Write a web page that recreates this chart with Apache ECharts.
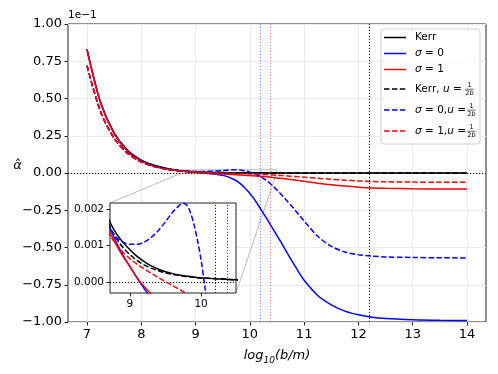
<!DOCTYPE html>
<html>
<head>
<meta charset="utf-8">
<script src="https://cdn.jsdelivr.net/npm/echarts@6/dist/echarts.min.js"></script>
<style>
html,body{margin:0;padding:0;background:#fff}
#main{width:498px;height:374px}
</style>
</head>
<body>
<div id="main"></div>
<script>
// log10(b/m) sample points
var logB = [7.0, 7.25, 7.5, 7.75, 8.0, 8.25, 8.5, 8.7, 8.8, 8.9, 9.0, 9.1, 9.2, 9.3, 9.4, 9.5, 9.6, 9.7, 9.75, 9.8,
            9.85, 9.9, 9.95, 10.0, 10.05, 10.1, 10.2, 10.3, 10.4, 10.5, 10.6, 10.7, 10.8, 10.9, 11.0, 11.25, 11.5, 11.75, 12.0, 12.25,
            12.5, 13.0, 13.5, 14.0];
// alpha hat, in units of 1e-1
var kerr = [0.83, 0.475, 0.27, 0.152, 0.087, 0.05, 0.029, 0.0172, 0.0135, 0.0109, 0.0088, 0.0070, 0.0056, 0.0044, 0.0035, 0.0028, 0.0023, 0.0019, 0.0017, 0.0016,
            0.0015, 0.0014, 0.0012, 0.0011, 0.0011, 0.0010, 0.0009, 0.0008, 0.0007, 0.0006, 0.0005, 0.0005, 0.0004, 0.0003, 0.0003, 0.0002, 0.0001, 0.0001, 0.0001, 0,
            0, 0, 0, 0];
var sigma0 = [0.83, 0.472, 0.266, 0.148, 0.083, 0.046, 0.026, 0.0158, 0.0112, 0.0074, 0.0042, 0.0011, -0.0018, -0.0048, -0.0095, -0.016, -0.026, -0.042, -0.052, -0.065,
              -0.08, -0.097, -0.116, -0.137, -0.16, -0.185, -0.242, -0.300, -0.36, -0.42, -0.48, -0.545, -0.605, -0.665, -0.72, -0.822, -0.885, -0.927, -0.952, -0.968,
              -0.977, -0.985, -0.989, -0.99];
var sigma1 = [0.83, 0.47, 0.263, 0.145, 0.08, 0.044, 0.024, 0.0145, 0.0104, 0.0071, 0.0043, 0.0012, -0.0012, -0.0033, -0.0052, -0.007, -0.0088, -0.0107, -0.0117, -0.0127,
              -0.0138, -0.0149, -0.016, -0.0172, -0.0184, -0.0197, -0.0225, -0.0257, -0.0293, -0.033, -0.037, -0.0415, -0.046, -0.051, -0.056, -0.068, -0.079, -0.088, -0.095, -0.1,
              -0.103, -0.106, -0.107, -0.107];
var kerrU = [0.72, 0.412, 0.235, 0.133, 0.076, 0.044, 0.0255, 0.0158, 0.0122, 0.0095, 0.0075, 0.0059, 0.0047, 0.0038, 0.0031, 0.0025, 0.0021, 0.0018, 0.0016, 0.0015,
             0.0014, 0.0013, 0.0012, 0.0011, 0.0011, 0.0010, 0.0009, 0.0008, 0.0007, 0.0006, 0.0005, 0.0005, 0.0004, 0.0003, 0.0003, 0.0002, 0.0001, 0.0001, 0.0001, 0,
             0, 0, 0, 0];
var sigma0U = [0.72, 0.41, 0.233, 0.132, 0.074, 0.042, 0.024, 0.0152, 0.0124, 0.0109, 0.0103, 0.0103, 0.0109, 0.0122, 0.0141, 0.0165, 0.0191, 0.021, 0.0215, 0.021,
               0.019, 0.0157, 0.0113, 0.006, -0.001, -0.008, -0.025, -0.049, -0.079, -0.114, -0.152, -0.193, -0.235, -0.279, -0.322, -0.425, -0.492, -0.53, -0.549, -0.558,
               -0.563, -0.567, -0.569, -0.57];
var sigma1U = [0.72, 0.41, 0.232, 0.13, 0.073, 0.041, 0.0225, 0.0134, 0.0105, 0.0082, 0.0064, 0.0049, 0.0036, 0.0024, 0.0012, 0.0001, -0.001, -0.0021, -0.0027, -0.0033,
               -0.0039, -0.0045, -0.0052, -0.0059, -0.0066, -0.0074, -0.009, -0.0108, -0.0128, -0.015, -0.0173, -0.0198, -0.0225, -0.0252, -0.028, -0.035, -0.042, -0.048, -0.053, -0.057,
               -0.059, -0.061, -0.062, -0.062];

var xTicks = [7, 8, 9, 10, 11, 12, 13, 14];
var insetXTicks = [9, 10];
var insetYTicks = [0, 0.01, 0.02];      // 1e-1 units, shown as 0.000 .. 0.002
var insetXRange = [8.72, 10.49];
var insetYRange = [-0.003, 0.0216];
var horizonS0 = 10.2, horizonS1 = 10.37, kerrMark = 12.2;

var FONT = 'DejaVu Sans';
var dash = [5.5, 2.4];
var dot = [1.2, 1.8];

function pairs(ys) {
    return logB.map(function (x, i) { return [x, ys[i]]; });
}

var curves = [
    {name: 'Kerr', data: kerr, color: '#000000', dashed: false},
    {name: 'σ=0', data: sigma0, color: '#0000ff', dashed: false},
    {name: 'σ=1', data: sigma1, color: '#ff0000', dashed: false},
    {name: 'Kerr, u=1/2b', data: kerrU, color: '#000000', dashed: true},
    {name: 'σ=0,u=1/2b', data: sigma0U, color: '#0000ff', dashed: true},
    {name: 'σ=1,u=1/2b', data: sigma1U, color: '#ff0000', dashed: true}
];

var myChart = echarts.init(document.getElementById('main'));

var series = [];
// reference lines on the main axes
series.push({
    type: 'line', xAxisIndex: 0, yAxisIndex: 0, data: [], silent: true,
    markLine: {
        silent: true, symbol: 'none', label: {show: false}, animation: false,
        data: [
            {yAxis: 0, lineStyle: {color: '#000', type: dot, width: 1}},
            {xAxis: horizonS0, lineStyle: {color: 'rgba(0,0,255,0.45)', type: dot, width: 1}},
            {xAxis: horizonS1, lineStyle: {color: 'rgba(255,0,0,0.45)', type: dot, width: 1}},
            {xAxis: kerrMark, lineStyle: {color: '#000', type: dot, width: 1}}
        ]
    },
    markArea: {
        silent: true,
        itemStyle: {color: 'rgba(0,0,0,0)', borderColor: '#bbbbbb', borderWidth: 1},
        data: [[{xAxis: insetXRange[0], yAxis: insetYRange[0]}, {xAxis: insetXRange[1], yAxis: insetYRange[1]}]]
    }
});
// reference lines in the inset, on the inset layer
series.push({
    type: 'line', xAxisIndex: 1, yAxisIndex: 1, zlevel: 1, data: [], silent: true,
    markLine: {
        silent: true, symbol: 'none', label: {show: false}, animation: false, zlevel: 1, z: 3,
        data: [
            {yAxis: 0, lineStyle: {color: '#000000', type: dot, width: 1}},
            {xAxis: horizonS0, lineStyle: {color: '#0000ff', type: dot, width: 1}},
            {xAxis: horizonS1, lineStyle: {color: '#ff0000', type: dot, width: 1}}
        ]
    }
});

curves.forEach(function (c) {
    [0, 1].forEach(function (k) {
        series.push({
            name: c.name, type: 'line', xAxisIndex: k, yAxisIndex: k,
            zlevel: k, data: pairs(c.data), showSymbol: false, smooth: 0.3,
            clip: true, animation: false, itemStyle: {color: c.color},
            lineStyle: {color: c.color, width: 1.5, type: c.dashed ? dash : 'solid'}
        });
    });
});

var option = {
    backgroundColor: '#fff',
    animation: false,
    grid: [
        {left: 68, right: 12, top: 24, bottom: 52, show: true, borderColor: '#222', borderWidth: 1, backgroundColor: '#fff'},
        {left: 110, top: 203, width: 126, height: 90, show: true, borderColor: '#222', borderWidth: 1,
         backgroundColor: '#fff', zlevel: 1}
    ],
    xAxis: [
        {
            type: 'value', gridIndex: 0, min: 6.65, max: 14.35,
            name: '{i|log}{s|10}{i|(b/m)}', nameLocation: 'middle', nameGap: 25,
            nameTextStyle: {
                rich: {
                    i: {fontFamily: FONT, fontSize: 13, fontStyle: 'italic', color: '#000', lineHeight: 18},
                    s: {fontFamily: FONT, fontSize: 9, fontStyle: 'italic', color: '#000', lineHeight: 8, verticalAlign: 'bottom'}
                }
            },
            axisLine: {show: false, onZero: false},
            axisTick: {show: true, inside: false, length: 3.5, customValues: xTicks, lineStyle: {color: '#222'}},
            axisLabel: {customValues: xTicks, margin: 6, fontFamily: FONT, fontSize: 13, color: '#000'},
            splitLine: {show: true, lineStyle: {color: '#ebebeb', width: 1}}
        },
        {
            type: 'value', gridIndex: 1, min: insetXRange[0], max: insetXRange[1], zlevel: 1,
            axisLine: {show: false, onZero: false},
            axisTick: {show: true, inside: false, length: 3.5, customValues: insetXTicks, lineStyle: {color: '#222'}},
            axisLabel: {customValues: insetXTicks, margin: 6, fontFamily: FONT, fontSize: 10.5, color: '#000'},
            splitLine: {show: false}
        }
    ],
    yAxis: [
        {
            type: 'value', gridIndex: 0, min: -1, max: 1, interval: 0.25,
            axisLine: {show: false, onZero: false},
            axisTick: {show: true, inside: false, length: 3.5, lineStyle: {color: '#222'}},
            axisLabel: {
                margin: 6, fontFamily: FONT, fontSize: 13, color: '#000',
                formatter: function (v) { return v.toFixed(2).replace('-', '\u2212'); }
            },
            splitLine: {show: true, lineStyle: {color: '#ebebeb', width: 1}}
        },
        {
            type: 'value', gridIndex: 1, min: insetYRange[0], max: insetYRange[1], zlevel: 1,
            axisLine: {show: false, onZero: false},
            axisTick: {show: true, inside: false, length: 3.5, customValues: insetYTicks, lineStyle: {color: '#222'}},
            axisLabel: {
                customValues: insetYTicks, margin: 6, fontFamily: FONT, fontSize: 10.5, color: '#000',
                formatter: function (v) { return (v / 10).toFixed(3); }
            },
            splitLine: {show: false}
        }
    ],
    series: series
};

myChart.setOption(option);

// zoom connectors + legend + axis texts
var rectBL = myChart.convertToPixel({xAxisIndex: 0, yAxisIndex: 0}, [insetXRange[0], insetYRange[0]]);
var rectBR = myChart.convertToPixel({xAxisIndex: 0, yAxisIndex: 0}, [insetXRange[1], insetYRange[0]]);
var inTL = myChart.convertToPixel({xAxisIndex: 1, yAxisIndex: 1}, [insetXRange[0], insetYRange[1]]);
var inBR = myChart.convertToPixel({xAxisIndex: 1, yAxisIndex: 1}, [insetXRange[1], insetYRange[0]]);

var g = [];
g.push({type: 'line', silent: true, z: 1, shape: {x1: rectBL[0], y1: rectBL[1], x2: inTL[0], y2: inTL[1]},
        style: {stroke: '#bbbbbb', lineWidth: 1}});
g.push({type: 'line', silent: true, z: 1, shape: {x1: rectBR[0], y1: rectBR[1], x2: inBR[0], y2: inBR[1]},
        style: {stroke: '#bbbbbb', lineWidth: 1}});
g.push({type: 'text', left: 68, top: 10, silent: true,
        style: {text: '1e\u22121', font: '10.5px "DejaVu Sans"', fill: '#000'}});
g.push({type: 'text', x: 17.5, y: 166, silent: true,
        style: {text: 'α\u0302', font: 'italic 13px "DejaVu Sans"', fill: '#000', align: 'center', verticalAlign: 'middle'}});

// legend
var legRows = [37.5, 53.5, 69.5, 89, 110, 131];
var legText = ['{t|Kerr}', '{i|σ}{t| = 0}', '{i|σ}{t| = 1}', '{t|Kerr, }{i|u}{t| = }',
               '{i|σ}{t| = 0,}{i|u}{t| = }', '{i|σ}{t| = 1,}{i|u}{t| = }'];
var fracX = [0, 0, 0, 469.5, 471.5, 471.5];
g.push({type: 'rect', silent: true, z: 10, shape: {x: 381, y: 29, width: 99, height: 115, r: 3},
        style: {fill: 'rgba(255,255,255,0.8)', stroke: '#d0d0d0', lineWidth: 1}});
curves.forEach(function (c, i) {
    var y = legRows[i];
    g.push({type: 'line', silent: true, z: 11, shape: {x1: 384, y1: y, x2: 406, y2: y},
            style: {stroke: c.color, lineWidth: 1.5, lineDash: c.dashed ? dash : null}});
    g.push({type: 'text', silent: true, z: 11, x: 415, y: y,
            style: {text: legText[i], verticalAlign: 'middle', align: 'left',
                    rich: {
                        t: {fontFamily: FONT, fontSize: 10.5, fill: '#000'},
                        i: {fontFamily: FONT, fontSize: 10.5, fontStyle: 'italic', fill: '#000'}
                    }}});
    if (c.dashed) {
        var fx = fracX[i];
        g.push({type: 'text', silent: true, z: 11, x: fx, y: y - 3.6,
                style: {text: '1', font: '6.5px "DejaVu Sans"', fill: '#000', align: 'center', verticalAlign: 'middle'}});
        g.push({type: 'line', silent: true, z: 11, shape: {x1: fx - 4.2, y1: y + 0.2, x2: fx + 4.2, y2: y + 0.2},
                style: {stroke: '#000', lineWidth: 0.6}});
        g.push({type: 'text', silent: true, z: 11, x: fx, y: y + 4.2,
                style: {text: '2{b|b}', font: '6.5px "DejaVu Sans"', fill: '#000', align: 'center', verticalAlign: 'middle',
                        rich: {b: {fontFamily: FONT, fontSize: 6.5, fontStyle: 'italic', fill: '#000'}}}});
    }
});

myChart.setOption({graphic: g});
</script>
</body>
</html>
